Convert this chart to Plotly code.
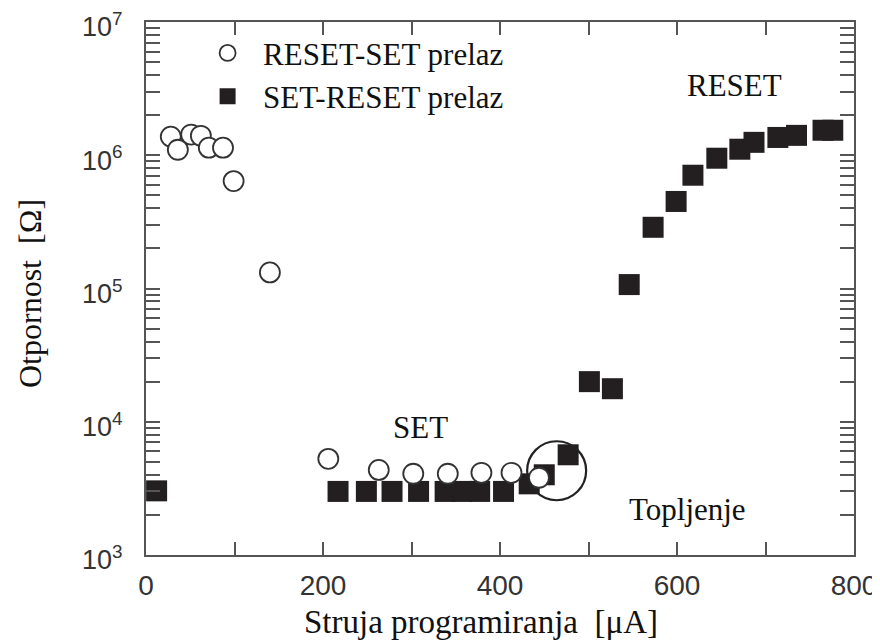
import plotly.graph_objects as go

# RESET-SET transition (open circles)
rs_current = [28, 36, 51, 62, 71, 87, 99, 140, 206, 263, 302, 341, 379, 413, 444]
rs_resist = [1.38e6, 1.10e6, 1.43e6, 1.40e6, 1.14e6, 1.14e6, 6.4e5, 1.32e5,
             5.27e3, 4.35e3, 4.07e3, 4.07e3, 4.14e3, 4.14e3, 3.80e3]

# SET-RESET transition (filled squares)
sr_current = [12, 217, 249, 278, 308, 338, 357, 377, 404, 433, 450, 477,
              501, 527, 546, 573, 599, 618, 645, 671, 687, 714, 735, 765, 776]
sr_resist = [3.03e3, 3.0e3, 3.0e3, 3.0e3, 3.0e3, 3.0e3, 3.0e3, 3.0e3, 3.0e3, 3.42e3, 4.0e3, 5.65e3,
             2.0e4, 1.77e4, 1.07e5, 2.88e5, 4.5e5, 7.08e5, 9.5e5, 1.11e6, 1.25e6, 1.36e6, 1.41e6, 1.54e6, 1.54e6]

# Highlighted melting point (big circle)
melt_current = [464]
melt_resist = [4.29e3]

x_tickvals = [0, 100, 200, 300, 400, 500, 600, 700, 800]
x_ticktext = ["0", "", "200", "", "400", "", "600", "", "800"]
y_decades = [3, 4, 5, 6]
y_tickvals = [m * 10 ** d for d in y_decades for m in range(1, 10)] + [1e7]
y_ticktext = [("10<sup>%d</sup>" % d if m == 1 else "") for d in y_decades for m in range(1, 10)] + ["10<sup>7</sup>"]

serif = "Liberation Serif"
sans = "Liberation Sans"
axc = "#555555"
txt = "#111111"

fig = go.Figure()
fig.add_trace(go.Scatter(
    x=sr_current, y=sr_resist, mode="markers", name="\u00a0\u00a0SET-RESET prelaz",
    marker=dict(symbol="square", size=21, color="#231f20", line=dict(width=0)),
    cliponaxis=False,
))
fig.add_trace(go.Scatter(
    x=rs_current, y=rs_resist, mode="markers", name="\u00a0\u00a0RESET-SET prelaz",
    marker=dict(symbol="circle", size=20, color="white", line=dict(width=1.8, color="#333333")),
    cliponaxis=False,
))
fig.add_trace(go.Scatter(
    x=melt_current, y=melt_resist, mode="markers", showlegend=False,
    marker=dict(symbol="circle-open", size=59, color="#222222", line=dict(width=2.2, color="#222222")),
    hoverinfo="skip",
))

fig.update_layout(
    width=872, height=635,
    margin=dict(l=138, r=26, t=14, b=88),
    paper_bgcolor="white", plot_bgcolor="white",
    showlegend=True,
    legend=dict(
        x=0.087, y=0.992, xanchor="left", yanchor="top",
        font=dict(family=serif, size=31, color=txt),
        bgcolor="rgba(0,0,0,0)", traceorder="reversed",
        itemsizing="trace", tracegroupgap=0,
    ),
    xaxis=dict(
        range=[0, 800], tickmode="array", tickvals=x_tickvals, ticktext=x_ticktext,
        ticks="inside", ticklen=13, tickwidth=1.5,
        tickcolor=axc, showline=True, linecolor=axc, linewidth=2, mirror="ticks",
        showgrid=False, zeroline=False, automargin=False,
        tickfont=dict(family=sans, size=28, color="#333333"),
        ticklabelstandoff=4, ticklabeloverflow="allow",
    ),
    yaxis=dict(
        type="log", range=[3, 7], tickmode="array", tickvals=y_tickvals, ticktext=y_ticktext,
        ticks="inside", ticklen=14, tickwidth=1.5, tickcolor=axc,
        showline=True, linecolor=axc, linewidth=2, mirror="ticks",
        showgrid=False, zeroline=False, automargin=False,
        tickfont=dict(family=sans, size=27, color="#333333"),
        ticklabelstandoff=16, ticklabelshift=5, ticklabeloverflow="allow",
    ),
    annotations=[
        dict(x=0.473, y=-0.1257, xref="paper", yref="paper", text="Struja programiranja  [μA]",
             showarrow=False, font=dict(family=serif, size=33, color=txt),
             xanchor="center", yanchor="middle"),
        dict(x=-0.1638, y=0.4897, xref="paper", yref="paper", text="Otpornost  [Ω]",
             showarrow=False, textangle=-90, font=dict(family=serif, size=32, color=txt),
             xanchor="center", yanchor="middle"),
        dict(x=665.5, y=6.527, xref="x", yref="y", text="RESET", showarrow=False,
             font=dict(family=serif, size=31, color=txt), xanchor="center", yanchor="middle"),
        dict(x=310.7, y=3.96, xref="x", yref="y", text="SET", showarrow=False,
             font=dict(family=serif, size=31, color=txt), xanchor="center", yanchor="middle"),
        dict(x=612, y=3.345, xref="x", yref="y", text="Topljenje", showarrow=False,
             font=dict(family=serif, size=31, color=txt), xanchor="center", yanchor="middle"),
    ],
)

fig.write_html("out.html")
